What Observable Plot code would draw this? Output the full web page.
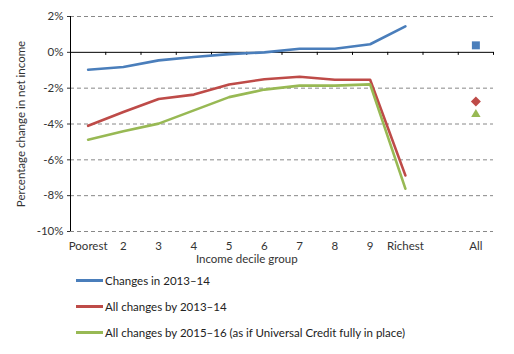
<!DOCTYPE html>
<html><head><meta charset="utf-8">
<script src="https://cdn.jsdelivr.net/npm/d3@7"></script>
<script src="https://cdn.jsdelivr.net/npm/@observablehq/plot@0.6"></script>
<style>
body{margin:0;background:#fff;font-family:Lato,sans-serif;}
#legend{position:relative;height:84px;font-size:11.5px;color:#222;}
.item{position:absolute;left:76px;display:flex;align-items:center;}
.sw{width:27px;height:3px;margin-right:2px;}
</style></head><body>
<div id="chart"></div>
<div id="legend"></div>
<script>
const categories = ["Poorest","2","3","4","5","6","7","8","9","Richest","","All"];
const deciles = ["Poorest","2","3","4","5","6","7","8","9","Richest"];
const seriesNames = ["Changes in 2013–14","All changes by 2013–14","All changes by 2015–16 (as if Universal Credit fully in place)"];
const colors = ["#4a7ebb","#be4b48","#98b954"];
const changes2013 = [-0.97,-0.82,-0.45,-0.26,-0.1,0.0,0.2,0.2,0.45,1.45];
const allBy2013 = [-4.1,-3.33,-2.6,-2.36,-1.8,-1.5,-1.36,-1.53,-1.53,-6.87];
const allBy2015 = [-4.88,-4.41,-3.98,-3.24,-2.5,-2.08,-1.86,-1.86,-1.79,-7.61];
const allValues = [0.39,-2.74,-3.46];
const symbols = ["square","diamond2","triangle2"];
const yTicks = [2,0,-2,-4,-6,-8,-10];

const seriesData = [changes2013, allBy2013, allBy2015];
const lineRows = seriesData.flatMap((vals,s)=>vals.map((v,i)=>({s, i: categories.indexOf(deciles[i]), v})));
const allIdx = categories.indexOf("All");
const dotRows = allValues.map((v,s)=>({s, i: allIdx, v}));
const bounds = d3.range(categories.length+1).map(i=>i-0.5);

const chart = Plot.plot({
  width: 514, height: 270,
  marginLeft: 70, marginRight: 21, marginTop: 16, marginBottom: 39,
  style: {fontFamily: "Lato, sans-serif", fontSize: "11.5px", color: "#333"},
  x: {type: "linear", domain: [-0.5, categories.length-0.5]},
  y: {domain: [-10, 2]},
  marks: [
    Plot.ruleY(yTicks.filter(d=>d!==0), {stroke: "#888", strokeDasharray: "4,3", strokeWidth: 1}),
    Plot.ruleY([0], {stroke: "#000", strokeWidth: 1}),
    Plot.ruleX([-0.5], {stroke: "#000", strokeWidth: 1}),
    Plot.ruleX(bounds.slice(1), {y1: 0, y2: -0.17, stroke: "#000"}),
    Plot.axisY({ticks: yTicks, tickFormat: d=>d+"%", tickSize: 3, tickPadding: 4,
      label: "Percentage change in net income", labelAnchor: "center", labelArrow: "none", labelOffset: 54}),
    Plot.axisX({ticks: d3.range(categories.length), tickFormat: i=>categories[i], tickSize: 0, tickPadding: 10, label: null}),
    Plot.text(["Income decile group"], {x: (deciles.length-1)/2, frameAnchor: "bottom", dy: 31, fill: "#333"}),
    Plot.line(lineRows, {x: "i", y: "v", z: "s", stroke: d=>colors[d.s], strokeWidth: 2.6}),
    Plot.dot(dotRows, {x: "i", y: "v", symbol: d=>symbols[d.s], fill: d=>colors[d.s], r: 4.5})
  ]
});
document.getElementById("chart").appendChild(chart);

const legend = document.getElementById("legend");
seriesNames.forEach((n,k)=>{
  const d = document.createElement("div");
  d.className = "item";
  d.style.top = (4 + 26*k) + "px";
  d.innerHTML = `<span class="sw" style="background:${colors[k]}"></span><span>${n}</span>`;
  legend.appendChild(d);
});
</script>
</body></html>
